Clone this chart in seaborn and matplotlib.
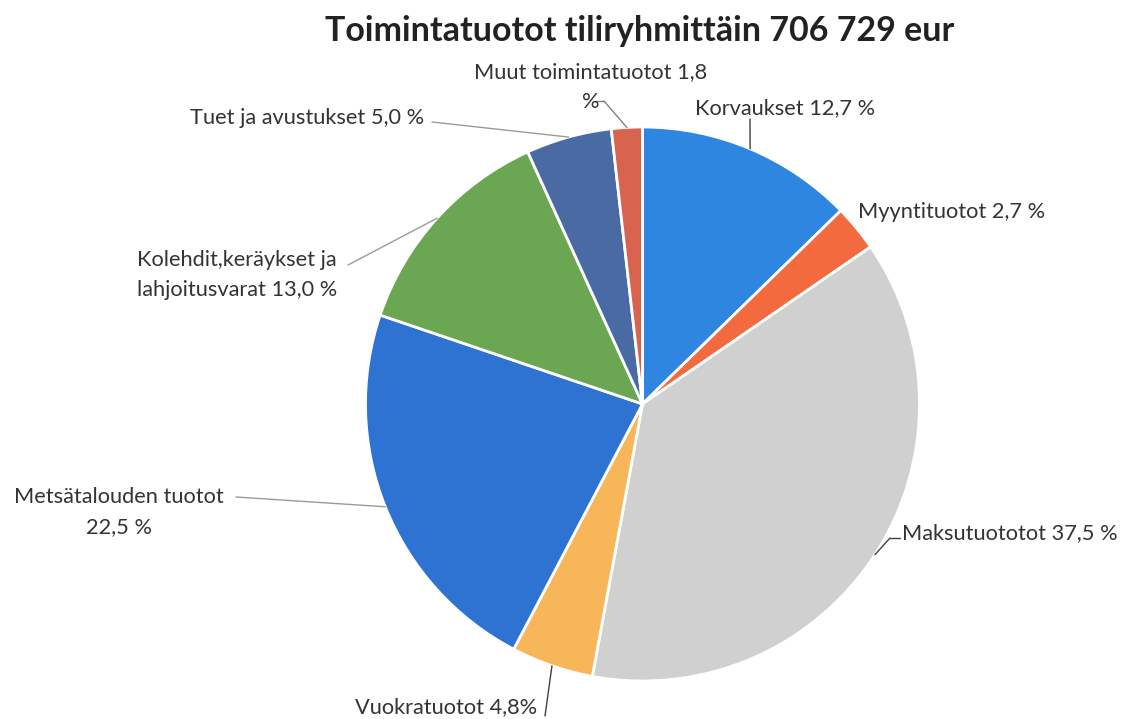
import matplotlib
matplotlib.use("Agg")
import matplotlib.pyplot as plt
from matplotlib.lines import Line2D
import seaborn as sns
import numpy as np

# data
categories = ["Korvaukset", "Myyntituotot", "Maksutuotot", "Vuokratuotot",
              "Metsätalouden tuotot", "Kolehdit,keräykset ja lahjoitusvarat",
              "Tuet ja avustukset", "Muut toimintatuotot"]
shares = [12.7, 2.7, 37.5, 4.8, 22.5, 13.0, 5.0, 1.8]
label_texts = ["Korvaukset 12,7 %", "Myyntituotot 2,7 %", "Maksutuototot 37,5 %",
               "Vuokratuotot 4,8%", "Metsätalouden tuotot\n22,5 %",
               "Kolehdit,keräykset ja\nlahjoitusvarat 13,0 %",
               "Tuet ja avustukset 5,0 %", "Muut toimintatuotot 1,8\n%"]
title = "Toimintatuotot tiliryhmittäin 706 729 eur"

slice_colors = ["#2f86e0", "#f26a3d", "#d0d0d0", "#f8b65a",
                "#2e72d2", "#6ba653", "#4a6aa4", "#d8644f"]

# layout (image pixels, origin top-left)
W, H = 1123, 719
center_px = (642.5, 404)
radius_px = 277
label_pos = [(695, 108), (858, 212), (902, 533), (355, 707),
             (119, 512), (137, 275), (190, 118), (591, 87)]
label_ha = ["left", "left", "left", "left", "center", "left", "left", "center"]
leader_pts = [[(750, 119)], None, [(900, 538), (890, 538)], [(545, 716)],
              [(236, 497)], [(348, 265)], [(432, 122)], [(596, 101), (604, 101)]]
leader_col = ["#404040", None, "#404040", "#404040",
              "#9a9a9a", "#9a9a9a", "#9a9a9a", "#808080"]
text_col = "#333333"

sns.set_theme(style="white")
plt.rcParams['font.family'] = ['Lato', 'DejaVu Sans']

fig = plt.figure(figsize=(W / 100, H / 100), dpi=100)
fig.patch.set_facecolor("white")
ax = fig.add_axes([(center_px[0] - radius_px) / W,
                   (H - center_px[1] - radius_px) / H,
                   2 * radius_px / W, 2 * radius_px / H])

wedges, _ = ax.pie(shares, colors=sns.color_palette(slice_colors), startangle=90,
                   counterclock=False, radius=1,
                   wedgeprops=dict(edgecolor="white", linewidth=2))
ax.set_xlim(-1, 1)
ax.set_ylim(-1, 1)
ax.axis("off")

fig.text(640 / W, 1 - 31 / H, title, ha="center", va="center",
         fontsize=24.5, fontweight="bold", color="#222222")

for w, txt, (x, y), ha, pts, lc in zip(wedges, label_texts, label_pos,
                                        label_ha, leader_pts, leader_col):
    fig.text(x / W, 1 - y / H, txt, ha=ha, va="center", fontsize=15.7,
             color=text_col, linespacing=1.6, multialignment=ha)
    if pts is None:
        continue
    mid = np.deg2rad((w.theta1 + w.theta2) / 2)
    if len(pts) > 1:
        xs = [p[0] / W for p in pts]
        ys = [1 - p[1] / H for p in pts]
        fig.add_artist(Line2D(xs, ys, transform=fig.transFigure, color=lc, lw=1))
    sx, sy = pts[-1]
    ax.annotate("", xy=(np.cos(mid), np.sin(mid)), xycoords="data",
                xytext=(sx, H - sy), textcoords="figure pixels",
                arrowprops=dict(arrowstyle="-", color=lc, lw=1,
                                shrinkA=0, shrinkB=0))

fig.savefig("out.png", dpi=100)
